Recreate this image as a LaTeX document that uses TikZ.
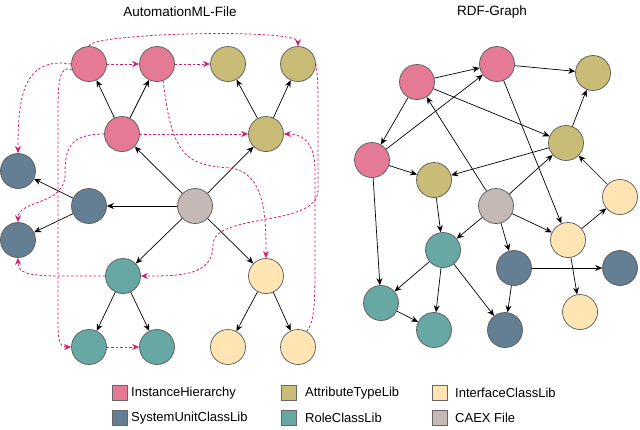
\documentclass[tikz,border=0pt]{standalone}
\usepackage{fontspec}
\setmainfont{Liberation Sans}
\usetikzlibrary{arrows.meta}
\definecolor{cpink}{HTML}{E57A95}
\definecolor{colive}{HTML}{C9BC77}
\definecolor{cblue}{HTML}{647F93}
\definecolor{cteal}{HTML}{67A8A4}
\definecolor{cyel}{HTML}{FFE5B4}
\definecolor{cgrey}{HTML}{C5B9B5}
\definecolor{cmag}{HTML}{D81B72}
\begin{document}
\begin{tikzpicture}[x=1pt,y=-1pt,
  n/.style={circle,draw=black!65,line width=0.7pt,minimum size=35pt,inner sep=0pt},
  e/.style={-{Stealth[length=7pt,width=6pt]},line width=0.7pt},
  d/.style={-{Stealth[length=7pt,width=6pt]},line width=0.8pt,draw=cmag,dash pattern=on 2.5pt off 2pt},
  sw/.style={draw=black!60,line width=0.6pt,minimum width=15pt,minimum height=15pt,inner sep=0pt},
  lab/.style={font=\fontsize{13}{15}\selectfont,anchor=west,inner sep=0pt}]
\useasboundingbox (0,0) rectangle (640,429);
\node[font=\fontsize{13.5}{15}\selectfont] (t1) at (180,12) {AutomationML-File};
\node[font=\fontsize{13.5}{15}\selectfont] (t2) at (492,12) {RDF-Graph};
% left graph
\node[n,fill=cpink] (P1) at (89,64) {};
\node[n,fill=cpink] (P2) at (157,64) {};
\node[n,fill=colive] (O1) at (228,64) {};
\node[n,fill=colive] (O2) at (298,64) {};
\node[n,fill=cpink] (P3) at (122,134) {};
\node[n,fill=colive] (O3) at (266,134) {};
\node[n,fill=cgrey] (C) at (195,206) {};
\node[n,fill=cblue] (B1) at (18,171) {};
\node[n,fill=cblue] (B2) at (89,206) {};
\node[n,fill=cblue] (B3) at (18,240) {};
\node[n,fill=cteal] (T1) at (123,276) {};
\node[n,fill=cyel] (Y1) at (266,276) {};
\node[n,fill=cteal] (T2) at (89,347) {};
\node[n,fill=cteal] (T3) at (157,347) {};
\node[n,fill=cyel] (Y2) at (228,347) {};
\node[n,fill=cyel] (Y3) at (298,347) {};
\foreach \a/\b in {C/P3,C/O3,C/B2,C/T1,C/Y1,P3/P1,P3/P2,O3/O1,O3/O2,B2/B1,B2/B3,T1/T2,T1/T3,Y1/Y2,Y1/Y3}
  \draw[e] (\a) -- (\b);
\draw[d] (P1) -- (P2);
\draw[d] (P2) -- (O1);
\draw[d] (P3) -- (O3);
\draw[d] (T2) -- (T3);
\draw[d] (P1.north) .. controls (89,33) and (298,28) .. (O2.north);
\draw[d] (P1.west) .. controls (22,56) and (18,100) .. (B1.north);
\draw[d] (P1.200) .. controls (60,64) and (58,80) .. (58,110) -- (58,325) .. controls (58,345) and (62,347) .. (T2.west);
\draw[d] (P2.290) .. controls (172,155) and (185,165) .. (230,168) .. controls (266,172) and (266,220) .. (Y1.north);
\draw[d] (P3.west) .. controls (68,134) and (65,150) .. (65,175) .. controls (65,205) and (18,200) .. (B3.north);
\draw[d] (O2.east) .. controls (318,76) and (318,90) .. (318,110) -- (318,190) .. controls (318,228) and (213,212) .. (213,245) .. controls (213,276) and (180,276) .. (T1.east);
\draw[d] (Y3.60) .. controls (315,320) and (315,300) .. (315,260) -- (315,170) .. controls (315,140) and (300,134) .. (O3.east);
\draw[d] (T1.west) .. controls (40,276) and (18,278) .. (B3.south);
% right graph
\node[n,fill=cpink] (a) at (417,82) {};
\node[n,fill=cpink] (b) at (497,64) {};
\node[n,fill=cpink] (c) at (372,160) {};
\node[n,fill=colive] (dd) at (593,73) {};
\node[n,fill=colive] (ee) at (566,143) {};
\node[n,fill=colive] (f) at (434,180) {};
\node[n,fill=cgrey] (g) at (496,206) {};
\node[n,fill=cyel] (h) at (620,197) {};
\node[n,fill=cyel] (i) at (568,240) {};
\node[n,fill=cyel] (j) at (580,312) {};
\node[n,fill=cteal] (k) at (443,250) {};
\node[n,fill=cteal] (l) at (381,303) {};
\node[n,fill=cteal] (m) at (434,330) {};
\node[n,fill=cblue] (nn) at (514,268) {};
\node[n,fill=cblue] (o) at (620,268) {};
\node[n,fill=cblue] (p) at (505,330) {};
\foreach \a/\b in {a/b,b/dd,a/c,c/b,a/ee,g/a,ee/dd,ee/f,c/f,c/l,f/k,g/ee,g/k,g/i,g/nn,b/i,i/h,h/ee,i/j,k/l,k/m,k/p,l/m,nn/o,nn/p}
  \draw[e] (\a) -- (\b);
% legend
\node[sw,fill=cpink] (s1) at (120,393) {};
\node[lab] (l1) at (131,393) {InstanceHierarchy};
\node[sw,fill=colive] (s2) at (289,393) {};
\node[lab] (l2) at (305,393) {AttributeTypeLib};
\node[sw,fill=cyel] (s3) at (440,393) {};
\node[lab] (l3) at (455,393) {InterfaceClassLib};
\node[sw,fill=cblue] (s4) at (120,418) {};
\node[lab] (l4) at (131,418) {SystemUnitClassLib};
\node[sw,fill=cteal] (s5) at (289,418) {};
\node[lab] (l5) at (305,418) {RoleClassLib};
\node[sw,fill=cgrey] (s6) at (440,418) {};
\node[lab] (l6) at (455,418) {CAEX File};
\end{tikzpicture}
\end{document}
